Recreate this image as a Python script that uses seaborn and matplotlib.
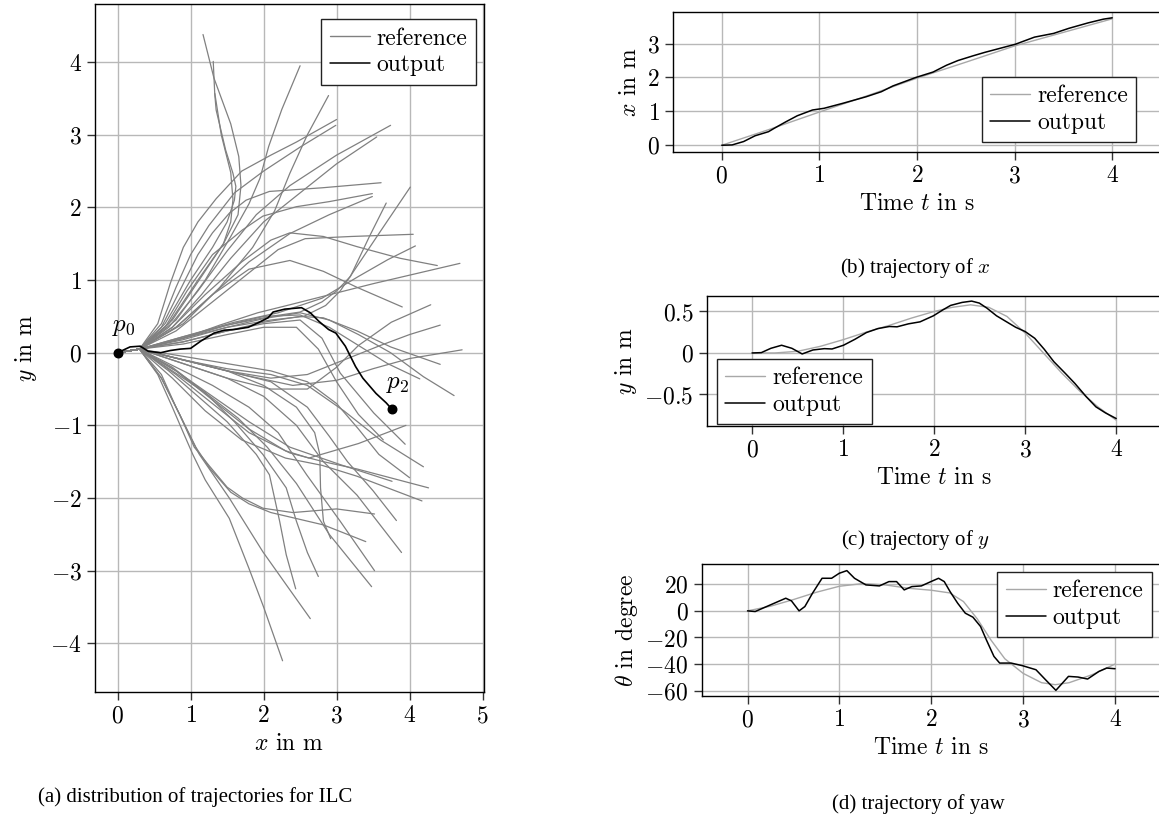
import numpy as np
import pandas as pd
import matplotlib
matplotlib.use("Agg")
import matplotlib.pyplot as plt
import seaborn as sns
from matplotlib.lines import Line2D
from matplotlib.ticker import FuncFormatter

# ---------------- data: (a) distribution of reference trajectories ----------------
# every trajectory starts at p0 and passes the common fan point
start_x = [0.0, 0.3]
start_y = [0.0, 0.05]

tr01 = [(0.7, 0.4), (1.1, 1.0), (1.45, 1.5), (1.65, 1.9), (1.69, 2.3), (1.66, 2.7), (1.55, 3.15), (1.32, 3.78), (1.17, 4.38)]
tr02 = [(0.75, 0.45), (1.15, 1.05), (1.45, 1.5), (1.55, 1.8), (1.58, 2.11), (1.55, 2.48), (1.42, 3.0), (1.33, 3.58), (1.31, 4.01)]
tr03 = [(0.65, 0.4), (1.0, 1.0), (1.3, 1.45), (1.5, 1.8), (1.6, 2.1), (1.62, 2.29), (1.58, 2.47), (1.48, 2.79), (1.35, 3.34), (1.33, 3.57)]
tr04 = [(0.8, 0.45), (1.2, 1.0), (1.55, 1.6), (1.8, 2.05), (1.95, 2.4), (2.07, 2.84), (2.25, 3.35), (2.5, 3.95)]
tr05 = [(0.9, 0.4), (1.4, 0.9), (1.85, 1.45), (2.15, 1.95), (2.36, 2.47), (2.6, 3.0), (2.89, 3.54)]
tr06 = [(0.55, 0.4), (0.72, 0.95), (0.9, 1.45), (1.1, 1.8), (1.35, 2.12), (1.7, 2.5), (2.1, 2.72), (2.45, 2.9), (3.0, 3.21)]
tr07 = [(0.6, 0.4), (0.8, 0.9), (1.0, 1.35), (1.25, 1.75), (1.6, 2.2), (2.0, 2.5), (2.5, 2.83), (2.99, 3.13)]
tr08 = [(0.7, 0.35), (1.1, 0.85), (1.5, 1.4), (1.9, 1.9), (2.36, 2.3), (3.0, 2.72), (3.74, 3.13)]
tr09 = [(0.75, 0.35), (1.15, 0.8), (1.55, 1.3), (2.0, 1.8), (2.5, 2.2), (3.0, 2.6), (3.55, 2.97)]
tr10 = [(0.6, 0.35), (0.85, 0.85), (1.1, 1.35), (1.3, 1.65), (1.53, 1.92), (1.76, 2.1), (2.08, 2.22), (2.8, 2.27), (3.61, 2.34)]
tr11 = [(0.65, 0.35), (0.95, 0.85), (1.3, 1.35), (1.71, 1.69), (1.99, 1.88), (2.45, 2.01), (2.9, 2.08), (3.49, 2.19)]
tr12 = [(0.8, 0.35), (1.3, 0.8), (1.8, 1.25), (2.36, 1.64), (2.9, 1.9), (3.49, 2.15)]
tr13 = [(0.9, 0.2), (1.5, 0.35), (2.1, 0.45), (2.55, 0.5), (2.85, 0.65), (3.05, 0.85), (3.22, 1.1), (3.6, 1.67), (4.01, 2.28)]
tr14 = [(0.9, 0.22), (1.5, 0.38), (2.1, 0.5), (2.5, 0.56), (2.8, 0.7), (3.0, 0.85), (3.19, 1.05), (3.45, 1.6), (3.68, 2.06)]
tr15 = [(0.8, 0.3), (1.3, 0.7), (1.8, 1.1), (2.2, 1.42), (2.57, 1.57), (3.2, 1.6), (4.05, 1.63)]
tr16 = [(1.0, 0.25), (1.6, 0.42), (2.2, 0.55), (2.8, 0.75), (3.3, 1.05), (3.7, 1.28), (4.08, 1.47)]
tr17 = [(0.75, 0.35), (1.2, 0.8), (1.7, 1.25), (2.1, 1.55), (2.36, 1.65), (2.82, 1.6), (3.28, 1.46), (3.87, 1.3), (4.38, 1.2)]
tr18 = [(0.9, 0.2), (1.4, 0.38), (1.92, 0.55), (2.36, 0.66), (3.5, 0.95), (4.69, 1.23)]
tr19 = [(0.8, 0.35), (1.3, 0.8), (1.8, 1.15), (2.36, 1.27), (2.82, 1.12), (3.28, 0.9), (3.9, 0.63)]
tr20 = [(0.9, -0.15), (1.5, -0.35), (2.1, -0.5), (2.6, -0.5), (3.0, -0.2), (3.3, 0.1), (3.75, 0.42), (4.29, 0.66)]
tr21 = [(0.9, -0.1), (1.5, -0.25), (2.1, -0.35), (2.6, -0.3), (3.1, -0.1), (3.6, 0.1), (4.0, 0.25), (4.42, 0.38)]
tr22 = [(1.0, -0.12), (1.7, -0.3), (2.4, -0.45), (3.0, -0.38), (3.5, -0.22), (4.0, -0.08), (4.72, 0.04)]
tr23 = [(0.9, 0.15), (1.5, 0.3), (2.0, 0.42), (2.5, 0.5), (2.82, 0.48), (3.28, 0.3), (3.74, 0.08), (4.42, -0.16)]
tr24 = [(0.9, 0.18), (1.5, 0.35), (2.0, 0.47), (2.5, 0.55), (2.9, 0.45), (3.3, 0.25), (3.74, 0.0), (4.19, -0.33), (4.61, -0.59)]
tr25 = [(0.9, 0.2), (1.5, 0.38), (2.0, 0.5), (2.5, 0.52), (2.9, 0.35), (3.3, 0.1), (3.7, -0.15), (4.14, -0.36)]
tr26 = [(0.8, -0.25), (1.3, -0.65), (1.8, -1.05), (2.3, -1.35), (2.62, -1.45), (3.3, -1.25), (3.95, -1.0)]
tr27 = [(0.9, 0.15), (1.5, 0.3), (2.0, 0.4), (2.5, 0.45), (2.8, 0.2), (3.05, -0.28), (3.51, -0.83), (3.94, -1.26)]
tr28 = [(0.9, 0.12), (1.5, 0.25), (2.0, 0.35), (2.45, 0.35), (2.75, 0.05), (3.0, -0.4), (3.3, -0.85), (3.64, -1.2)]
tr29 = [(0.9, -0.1), (1.5, -0.22), (2.1, -0.3), (2.6, -0.45), (3.1, -0.8), (3.6, -1.2), (4.19, -1.57)]
tr30 = [(0.8, -0.3), (1.3, -0.7), (1.8, -1.1), (2.36, -1.38), (2.82, -1.5), (3.28, -1.6), (4.26, -1.86)]
tr31 = [(0.75, -0.35), (1.2, -0.8), (1.7, -1.2), (2.3, -1.45), (2.8, -1.55), (3.28, -1.7), (4.17, -2.04)]
tr32 = [(0.9, -0.05), (1.5, -0.15), (2.1, -0.25), (2.6, -0.4), (3.0, -0.7), (3.3, -1.05), (3.58, -1.4), (4.0, -1.72)]
tr33 = [(0.8, -0.25), (1.3, -0.6), (1.8, -0.95), (2.36, -1.3), (3.05, -1.54), (3.76, -1.77)]
tr34 = [(0.9, -0.1), (1.5, -0.25), (2.1, -0.4), (2.6, -0.75), (2.9, -1.15), (3.15, -1.5), (3.5, -1.9), (3.82, -2.31)]
tr35 = [(0.9, -0.15), (1.5, -0.35), (2.0, -0.6), (2.45, -1.0), (2.82, -1.5), (3.28, -1.96), (3.89, -2.75)]
tr36 = [(0.6, -0.35), (0.85, -0.85), (1.05, -1.3), (1.25, -1.55), (1.5, -1.85), (1.71, -2.0), (1.99, -2.14), (2.4, -2.2), (3.0, -2.15), (3.52, -2.22)]
tr37 = [(0.6, -0.35), (0.85, -0.85), (1.07, -1.3), (1.27, -1.6), (1.55, -1.92), (1.8, -2.08), (2.1, -2.2), (2.82, -2.37), (3.4, -2.6)]
tr38 = [(0.55, -0.3), (0.75, -0.75), (0.9, -1.1), (1.03, -1.4), (1.2, -1.75), (1.53, -2.28), (1.8, -2.97), (2.0, -3.5), (2.26, -4.24)]
tr39 = [(0.6, -0.3), (0.8, -0.75), (0.97, -1.1), (1.12, -1.4), (1.53, -2.0), (1.99, -2.74), (2.35, -3.25), (2.64, -3.66)]
tr40 = [(0.7, -0.25), (1.1, -0.6), (1.5, -0.95), (1.9, -1.4), (2.08, -1.68), (2.22, -2.32), (2.31, -2.78), (2.44, -3.25)]
tr41 = [(0.75, -0.2), (1.2, -0.55), (1.6, -0.95), (1.99, -1.4), (2.31, -1.86), (2.45, -2.32), (2.6, -2.75), (2.75, -3.08)]
tr42 = [(0.9, -0.1), (1.5, -0.25), (2.0, -0.45), (2.45, -0.75), (2.7, -1.1), (2.77, -1.4), (2.78, -1.86), (2.82, -2.32), (2.92, -2.56)]
tr43 = [(0.8, -0.2), (1.3, -0.45), (1.8, -0.75), (2.2, -1.1), (2.59, -1.68), (3.05, -2.32), (3.52, -3.0)]
tr44 = [(0.75, -0.25), (1.2, -0.55), (1.65, -0.9), (2.05, -1.3), (2.45, -1.8), (2.9, -2.5), (3.48, -3.22)]

# output trajectory in the plane
out_px = [0.0, 0.17, 0.31, 0.42, 0.59, 0.72, 0.86, 1.0, 1.14, 1.32, 1.46, 1.6, 1.79, 1.92, 2.06, 2.13,
          2.29, 2.52, 2.64, 2.76, 2.89, 2.99, 3.12, 3.26, 3.36, 3.54, 3.68, 3.76]
out_py = [0.0, 0.08, 0.09, 0.02, 0.0, 0.03, 0.05, 0.06, 0.16, 0.27, 0.31, 0.32, 0.35, 0.41, 0.48, 0.56,
          0.6, 0.62, 0.55, 0.43, 0.32, 0.27, 0.09, -0.19, -0.35, -0.56, -0.69, -0.78]
p0 = (0.0, 0.0)
p2 = (3.76, -0.78)

# ---------------- data: (b) x(t) ----------------
t_xref = [0.0, 0.5, 1.0, 1.5, 2.0, 2.5, 3.0, 3.5, 4.0]
x_ref = [0.0, 0.48, 0.98, 1.47, 1.98, 2.45, 2.93, 3.33, 3.73]
t_xout = [0.0, 0.106, 0.224, 0.341, 0.478, 0.537, 0.655, 0.773, 0.929, 1.047, 1.243, 1.478, 1.635, 1.753,
          1.988, 2.165, 2.302, 2.42, 2.576, 2.694, 3.008, 3.204, 3.4, 3.557, 3.753, 3.91, 4.0]
x_out = [0.0, 0.01, 0.11, 0.28, 0.4, 0.5, 0.69, 0.87, 1.04, 1.09, 1.24, 1.43, 1.58, 1.75,
         2.0, 2.16, 2.36, 2.5, 2.64, 2.74, 2.98, 3.19, 3.3, 3.45, 3.61, 3.72, 3.76]

# ---------------- data: (c) y(t) ----------------
t_yref = [0.0, 0.25, 0.5, 0.75, 1.0, 1.25, 1.5, 1.75, 2.0, 2.2, 2.4, 2.6, 2.8, 3.0, 3.2, 3.4, 3.6, 3.8, 4.0]
y_ref = [0.0, 0.0, 0.02, 0.08, 0.16, 0.25, 0.33, 0.42, 0.5, 0.55, 0.58, 0.55, 0.44, 0.24, 0.0, -0.24, -0.46, -0.65, -0.81]
t_yout = [0.0, 0.101, 0.206, 0.324, 0.437, 0.55, 0.668, 0.794, 0.878, 1.004, 1.13, 1.256, 1.382, 1.508, 1.592,
          1.718, 1.845, 1.992, 2.097, 2.181, 2.307, 2.412, 2.496, 2.58, 2.685, 2.79, 2.895, 3.0, 3.105, 3.21,
          3.315, 3.441, 3.546, 3.672, 3.777, 3.882, 4.0]
y_out = [0.0, 0.004, 0.056, 0.093, 0.056, -0.012, 0.036, 0.052, 0.048, 0.093, 0.165, 0.246, 0.294, 0.319, 0.315,
         0.351, 0.375, 0.448, 0.52, 0.573, 0.609, 0.625, 0.601, 0.54, 0.448, 0.379, 0.31, 0.258, 0.177, 0.044,
         -0.105, -0.246, -0.367, -0.528, -0.649, -0.722, -0.79]

# ---------------- data: (d) yaw(t) ----------------
t_thref = [0.0, 0.25, 0.5, 0.75, 1.0, 1.25, 1.5, 1.75, 2.0, 2.2, 2.35, 2.5, 2.65, 2.8, 3.0, 3.2, 3.35, 3.5, 3.75, 4.0]
th_ref = [0.0, 3.5, 8.5, 14.0, 18.5, 20.5, 19.5, 17.0, 15.5, 13.5, 7.0, -6.0, -22.0, -36.0, -47.0, -54.0, -55.5, -54.0, -48.0, -40.0]
t_thout = [0.0, 0.083, 0.166, 0.291, 0.416, 0.478, 0.561, 0.624, 0.707, 0.811, 0.915, 0.998, 1.081, 1.164, 1.289,
           1.435, 1.539, 1.622, 1.705, 1.788, 1.892, 1.996, 2.079, 2.141, 2.204, 2.287, 2.37, 2.453, 2.536, 2.599,
           2.682, 2.744, 2.869, 2.994, 3.139, 3.243, 3.356, 3.493, 3.597, 3.701, 3.825, 3.909, 4.0]
th_out = [0.0, -0.5, 2.0, 5.75, 9.5, 7.5, 0.0, 3.25, 13.25, 24.5, 24.5, 28.25, 30.25, 24.5, 19.5,
          18.75, 22.0, 22.0, 15.75, 18.25, 18.75, 22.0, 24.5, 22.0, 14.5, 5.75, -1.75, -4.75, -11.75, -21.75,
          -34.25, -39.25, -39.25, -41.25, -44.25, -51.75, -59.75, -49.25, -49.75, -51.25, -45.5, -43.0, -43.5]

# ---------------- style ----------------
sns.set_theme(style="whitegrid")
plt.rcParams.update({
    "font.family": "serif",
    "font.serif": ["cmr10", "DejaVu Serif"],
    "mathtext.fontset": "cm",
    "axes.formatter.use_mathtext": True,
    "font.size": 17,
    "axes.labelsize": 17,
    "xtick.labelsize": 17,
    "ytick.labelsize": 17,
    "legend.fontsize": 17,
    "axes.edgecolor": "black",
    "axes.linewidth": 1.0,
    "grid.color": "#b8b8b8",
    "grid.linewidth": 1.0,
    "xtick.bottom": True,
    "ytick.left": True,
    "xtick.direction": "out",
    "ytick.direction": "out",
    "xtick.major.size": 6,
    "ytick.major.size": 6,
    "xtick.major.width": 1.0,
    "ytick.major.width": 1.0,
    "xtick.color": "#333333",
    "ytick.color": "#333333",
    "xtick.labelcolor": "black",
    "ytick.labelcolor": "black",
    "axes.labelcolor": "black",
    "text.color": "black",
})

fmt = FuncFormatter(lambda v, _: f"${v:g}$")
W, H = 1159, 821


def box(l, t, r, b):
    return [l / W, 1 - b / H, (r - l) / W, (b - t) / H]


def make_legend(ax, ref_color, loc, anchor):
    handles = [Line2D([], [], color=ref_color, lw=1.0), Line2D([], [], color="black", lw=1.1)]
    leg = ax.legend(handles, ["reference", "output"], loc=loc, bbox_to_anchor=anchor,
                    frameon=True, fancybox=False, framealpha=1, edgecolor="#222222",
                    borderaxespad=0, handlelength=1.7, handletextpad=0.3,
                    borderpad=0.35, labelspacing=0.2)
    leg.get_frame().set_linewidth(1.0)
    return leg


fig = plt.figure(figsize=(W / 100, H / 100), dpi=100)

# ---------------- (a) ----------------
ax = fig.add_axes(box(95, 4, 484, 692))
curves = [tr01, tr02, tr03, tr04, tr05, tr06, tr07, tr08, tr09, tr10, tr11, tr12, tr13, tr14, tr15,
          tr16, tr17, tr18, tr19, tr20, tr21, tr22, tr23, tr24, tr25, tr26, tr27, tr28, tr29, tr30,
          tr31, tr32, tr33, tr34, tr35, tr36, tr37, tr38, tr39, tr40, tr41, tr42, tr43, tr44]
rows = []
for i, pts in enumerate(curves):
    xs = start_x + [p[0] for p in pts]
    ys = start_y + [p[1] for p in pts]
    for j, (x, y) in enumerate(zip(xs, ys)):
        rows.append((i, j, x, y))
traj_df = pd.DataFrame(rows, columns=["traj", "step", "x", "y"])
sns.lineplot(data=traj_df, x="x", y="y", units="traj", estimator=None, sort=False,
             color="#808080", lw=0.9, ax=ax)
sns.lineplot(x=out_px, y=out_py, sort=False, color="black", lw=1.2, ax=ax)
ax.scatter([p0[0], p2[0]], [p0[1], p2[1]], s=38, color="black", zorder=5)
ax.text(p0[0] + 0.08, p0[1] + 0.2, "$p_0$", fontsize=18, ha="center", va="bottom")
ax.text(p2[0] + 0.08, p2[1] + 0.2, "$p_2$", fontsize=18, ha="center", va="bottom")
ax.set_xlim(-0.31, 5.02)
ax.set_ylim(-4.67, 4.80)
ax.set_xticks([0, 1, 2, 3, 4, 5])
ax.set_yticks([-4, -3, -2, -1, 0, 1, 2, 3, 4])
ax.xaxis.set_major_formatter(fmt)
ax.yaxis.set_major_formatter(fmt)
ax.set_xlabel("$x$ in m")
ax.set_ylabel("$y$ in m", labelpad=8)
make_legend(ax, "#808080", "upper right", (0.979, 0.978))

# ---------------- (b) ----------------
axb = fig.add_axes(box(673, 11.7, 1161, 151.7))
sns.lineplot(x=t_xref, y=x_ref, color="#a8a8a8", lw=1.0, ax=axb)
sns.lineplot(x=t_xout, y=x_out, color="black", lw=1.1, ax=axb)
axb.set_xlim(-0.5, 4.5)
axb.set_ylim(-0.19, 3.94)
axb.set_xticks([0, 1, 2, 3, 4])
axb.set_yticks([0, 1, 2, 3])
axb.set_xlabel("Time $t$ in s")
axb.set_ylabel("$x$ in m")
make_legend(axb, "#a8a8a8", "lower right", (0.949, 0.069))

# ---------------- (c) ----------------
axc = fig.add_axes(box(706.6, 295.7, 1161.7, 426))
sns.lineplot(x=t_yref, y=y_ref, color="#a8a8a8", lw=1.0, ax=axc)
sns.lineplot(x=t_yout, y=y_out, color="black", lw=1.1, ax=axc)
axc.set_xlim(-0.5, 4.5)
axc.set_ylim(-0.88, 0.69)
axc.set_xticks([0, 1, 2, 3, 4])
axc.set_yticks([-0.5, 0, 0.5])
axc.set_xlabel("Time $t$ in s")
axc.set_ylabel("$y$ in m")
make_legend(axc, "#a8a8a8", "lower left", (0.023, 0.015))

# ---------------- (d) ----------------
axd = fig.add_axes(box(701.6, 564.3, 1161, 696))
sns.lineplot(x=t_thref, y=th_ref, color="#a8a8a8", lw=1.0, ax=axd)
sns.lineplot(x=t_thout, y=th_out, color="black", lw=1.1, ax=axd)
axd.set_xlim(-0.5, 4.5)
axd.set_ylim(-64, 35)
axd.set_xticks([0, 1, 2, 3, 4])
axd.set_yticks([-60, -40, -20, 0, 20])
axd.set_xlabel("Time $t$ in s")
axd.set_ylabel(r"$\theta$ in degree")
make_legend(axd, "#a8a8a8", "upper right", (0.980, 0.942))

for a in (axb, axc, axd):
    a.xaxis.set_major_formatter(fmt)
    a.yaxis.set_major_formatter(fmt)

for a in (ax, axb, axc, axd):
    a.set_facecolor("white")
    a.grid(True, color="#b8b8b8", lw=1.0)
    for s in a.spines.values():
        s.set_color("black")
        s.set_linewidth(1.0)

# ---------------- captions ----------------
cap = dict(fontsize=15, family="Liberation Serif", ha="center", va="center")
fig.text(195 / W, 1 - 797 / H, "(a) distribution of trajectories for ILC", **cap)
fig.text(915 / W, 1 - 268 / H, "(b) trajectory of $x$", **cap)
fig.text(915 / W, 1 - 540 / H, "(c) trajectory of $y$", **cap)
fig.text(918 / W, 1 - 804 / H, "(d) trajectory of yaw", **cap)

fig.savefig("out.png", dpi=100, facecolor="white")
